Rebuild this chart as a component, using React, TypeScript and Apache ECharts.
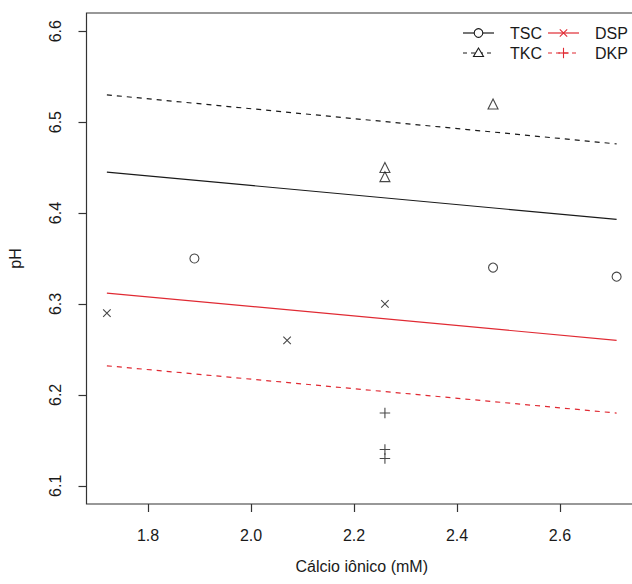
import React, { useEffect, useRef } from "react";
import * as echarts from "echarts";

// ---- data ----
const xTicks = [1.8, 2.0, 2.2, 2.4, 2.6];
const yTicks = [6.1, 6.2, 6.3, 6.4, 6.5, 6.6];

const tscX = [1.89, 2.47, 2.71];
const tscY = [6.35, 6.34, 6.33];
const tkcX = [2.26, 2.26, 2.47];
const tkcY = [6.45, 6.44, 6.52];
const dspX = [1.72, 2.07, 2.26];
const dspY = [6.29, 6.26, 6.3];
const dkpX = [2.26, 2.26, 2.26];
const dkpY = [6.18, 6.14, 6.13];

// fitted lines (start / end values over x range)
const fitX = [1.72, 2.71];
const tscFit = [6.445, 6.393];
const tkcFit = [6.53, 6.476];
const dspFit = [6.312, 6.26];
const dkpFit = [6.232, 6.18];

const legendLabels = ["TSC", "TKC", "DSP", "DKP"];

const xTitle = "Cálcio iônico (mM)";
const yTitle = "pH";

const RED = "#e02a33";
const INK = "#1a1a1a";
const FONT = "Liberation Sans";

const pairs = (xs: number[], ys: number[]) => xs.map((x, i) => [x, ys[i]]);

const CROSS = "path://M0,0L10,10M10,0L0,10";
const PLUS = "path://M5,0L5,10M0,5L10,5";

export default function App() {
  const ref = useRef<HTMLDivElement>(null);
  useEffect(() => {
    if (!ref.current) return;
    const chart = echarts.init(ref.current, null, { renderer: "svg" });

    const hollow = { color: "rgba(0,0,0,0)", borderColor: INK, borderWidth: 1.1 };

    const lineSeries = (name: string, ys: number[], color: string, dashed: boolean) => ({
      type: "line",
      name,
      data: pairs(fitX, ys),
      symbol: "none",
      silent: true,
      lineStyle: { color, width: 1.2, type: dashed ? [5, 5] : "solid" },
      z: 2,
    });

    const scatterSeries = (name: string, xs: number[], ys: number[], symbol: string, size: number) => ({
      type: "scatter",
      name: name + " pts",
      data: pairs(xs, ys),
      symbol,
      symbolSize: size,
      itemStyle: hollow,
      z: 3,
    });

    // legend graphic
    const lx = [463, 548];
    const ly = [33, 53];
    const legendItems = [
      { label: legendLabels[0], col: 0, row: 0, color: INK, dash: false, mark: "circle" },
      { label: legendLabels[1], col: 0, row: 1, color: INK, dash: true, mark: "triangle" },
      { label: legendLabels[2], col: 1, row: 0, color: RED, dash: false, mark: "cross" },
      { label: legendLabels[3], col: 1, row: 1, color: RED, dash: true, mark: "plus" },
    ];
    const graphic: any[] = [];
    legendItems.forEach((it) => {
      const x0 = lx[it.col];
      const y0 = ly[it.row];
      const cx = x0 + 15.5;
      graphic.push({
        type: "line",
        shape: { x1: x0, y1: y0, x2: x0 + 31, y2: y0 },
        style: { stroke: it.color, lineWidth: 1.2, lineDash: it.dash ? [4, 4] : null },
      });
      if (it.mark === "circle") {
        graphic.push({ type: "circle", shape: { cx, cy: y0, r: 4.3 }, style: { fill: "#fff", stroke: it.color, lineWidth: 1.1 } });
      } else if (it.mark === "triangle") {
        graphic.push({
          type: "polygon",
          shape: { points: [[cx, y0 - 5], [cx - 5, y0 + 3.5], [cx + 5, y0 + 3.5]] },
          style: { fill: "#fff", stroke: it.color, lineWidth: 1.1 },
        });
      } else if (it.mark === "cross") {
        graphic.push({ type: "line", shape: { x1: cx - 3.7, y1: y0 - 3.7, x2: cx + 3.7, y2: y0 + 3.7 }, style: { stroke: it.color, lineWidth: 1.1 } });
        graphic.push({ type: "line", shape: { x1: cx - 3.7, y1: y0 + 3.7, x2: cx + 3.7, y2: y0 - 3.7 }, style: { stroke: it.color, lineWidth: 1.1 } });
      } else {
        graphic.push({ type: "line", shape: { x1: cx - 5.2, y1: y0, x2: cx + 5.2, y2: y0 }, style: { stroke: it.color, lineWidth: 1.1 } });
        graphic.push({ type: "line", shape: { x1: cx, y1: y0 - 5.2, x2: cx, y2: y0 + 5.2 }, style: { stroke: it.color, lineWidth: 1.1 } });
      }
      graphic.push({
        type: "text",
        style: {
          text: it.label,
          x: x0 + 47,
          y: y0,
          fill: INK,
          font: `16px "${FONT}"`,
          align: "left",
          verticalAlign: "middle",
        },
      });
    });

    chart.setOption({
      animation: false,
      backgroundColor: "#fff",
      textStyle: { fontFamily: FONT },
      grid: {
        left: 86.5,
        top: 13,
        width: 550.5,
        height: 491,
        show: true,
        borderColor: "#333",
        borderWidth: 1.2,
        backgroundColor: "transparent",
        outerBoundsMode: "none",
      },
      xAxis: {
        type: "value",
        min: 1.6804,
        max: 2.7496,
        name: xTitle,
        nameLocation: "middle",
        nameGap: 54,
        nameTextStyle: { fontSize: 16, color: INK, fontFamily: FONT, verticalAlign: "top" },
        axisLine: { show: false },
        axisTick: { show: true, length: 8, customValues: xTicks, lineStyle: { color: "#333", width: 1.2 } },
        axisLabel: {
          customValues: xTicks,
          formatter: (v: number) => v.toFixed(1),
          fontSize: 16,
          color: INK,
          margin: 23,
          fontFamily: FONT,
        },
        splitLine: { show: false },
      },
      yAxis: {
        type: "value",
        min: 6.08,
        max: 6.62,
        name: yTitle,
        nameLocation: "middle",
        nameGap: 63,
        nameRotate: 90,
        nameTextStyle: { fontSize: 16, color: INK, fontFamily: FONT },
        axisLine: { show: false },
        axisTick: { show: true, length: 8, customValues: yTicks, lineStyle: { color: "#333", width: 1.2 } },
        axisLabel: {
          customValues: yTicks,
          formatter: (v: number) => v.toFixed(1),
          rotate: 90,
          fontSize: 16,
          color: INK,
          margin: 23,
          fontFamily: FONT,
        },
        splitLine: { show: false },
      },
      series: [
        lineSeries("TSC", tscFit, INK, false),
        lineSeries("TKC", tkcFit, INK, true),
        lineSeries("DSP", dspFit, RED, false),
        lineSeries("DKP", dkpFit, RED, true),
        scatterSeries("TSC", tscX, tscY, "circle", 9),
        scatterSeries("TKC", tkcX, tkcY, "triangle", 10),
        scatterSeries("DSP", dspX, dspY, CROSS, 7.5),
        scatterSeries("DKP", dkpX, dkpY, PLUS, 10.5),
      ],
      graphic,
    });
    return () => chart.dispose();
  }, []);
  return <div ref={ref} style={{ position: "fixed", left: 0, top: 0, width: 632, height: 584 }} />;
}
